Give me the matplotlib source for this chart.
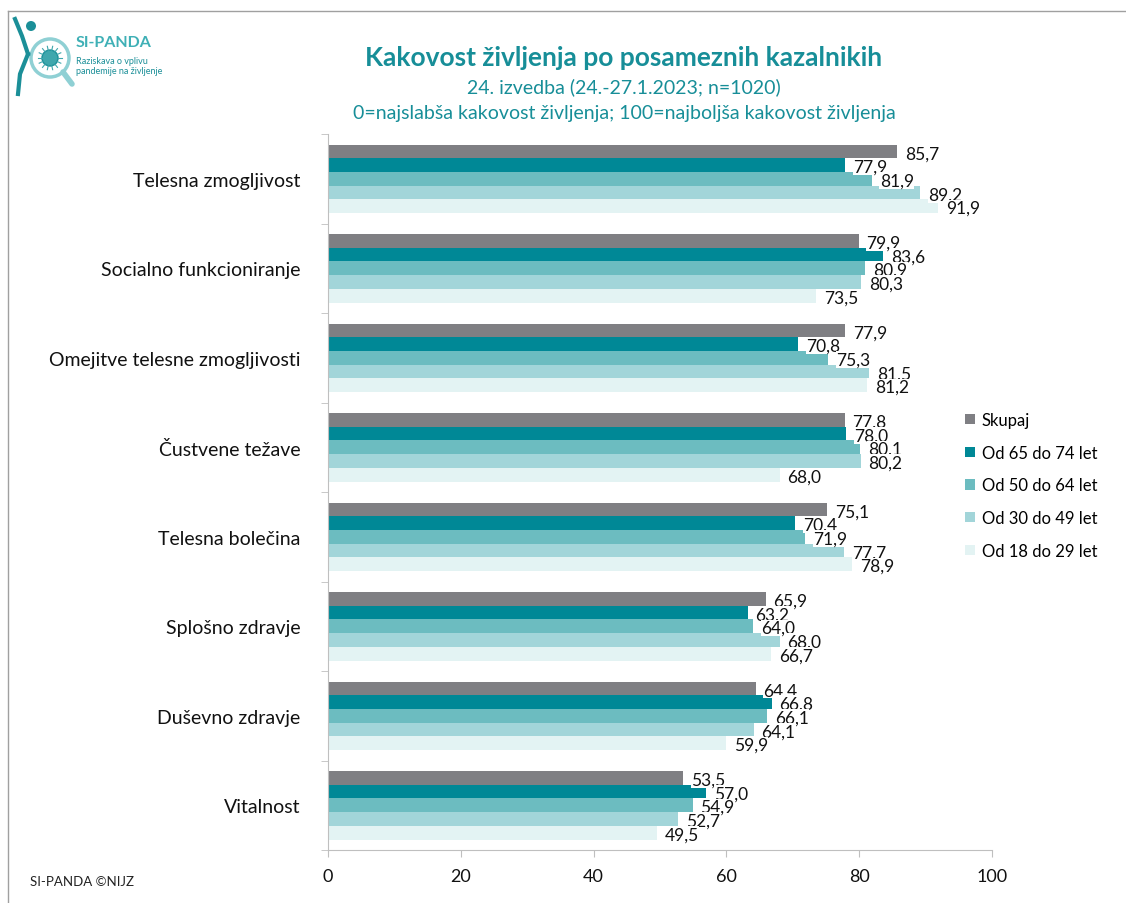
import matplotlib
matplotlib.use("Agg")
import matplotlib.pyplot as plt
import numpy as np
from matplotlib.patches import Circle, Rectangle
from matplotlib.lines import Line2D

plt.rcParams['font.family'] = ['Lato', 'DejaVu Sans']

categories = ["Telesna zmogljivost", "Socialno funkcioniranje", "Omejitve telesne zmogljivosti",
              "Čustvene težave", "Telesna bolečina", "Splošno zdravje", "Duševno zdravje", "Vitalnost"]
series_names = ["Skupaj", "Od 65 do 74 let", "Od 50 do 64 let", "Od 30 do 49 let", "Od 18 do 29 let"]
skupaj = [85.7, 79.9, 77.9, 77.8, 75.1, 65.9, 64.4, 53.5]
od65_74 = [77.9, 83.6, 70.8, 78.0, 70.4, 63.2, 66.8, 57.0]
od50_64 = [81.9, 80.9, 75.3, 80.1, 71.9, 64.0, 66.1, 54.9]
od30_49 = [89.2, 80.3, 81.5, 80.2, 77.7, 68.0, 64.1, 52.7]
od18_29 = [91.9, 73.5, 81.2, 68.0, 78.9, 66.7, 59.9, 49.5]
series = [skupaj, od65_74, od50_64, od30_49, od18_29]
colors = ["#7f7f83", "#008896", "#6cbcc0", "#a2d5d9", "#e3f3f3"]
xticks = [0, 20, 40, 60, 80, 100]

W, H = 1126, 904
fig = plt.figure(figsize=(W / 100, H / 100), dpi=100)

# axes: x 328..992, y 135..851 (pixels)
ax = fig.add_axes([328 / W, 1 - 851 / H, (992 - 328) / W, (851 - 135) / H])

n_cat = len(categories)
bar_h = 13.7 / 89.5
for i, cat in enumerate(categories):
    for j, (vals, col) in enumerate(zip(series, colors)):
        y = i + (j - 2) * bar_h
        ax.barh(y, vals[i], height=bar_h, color=col, edgecolor='none', zorder=2)
for i, cat in enumerate(categories):
    for j, vals in enumerate(series):
        y = i + (j - 2) * bar_h
        ax.text(vals[i] + 1.2, y + 0.02, f"{vals[i]:.1f}".replace('.', ','), va='center', ha='left',
                fontsize=12.5, color='#111111', zorder=3,
                bbox=dict(boxstyle='square,pad=0.02', facecolor='white', edgecolor='none'))

ax.set_ylim(n_cat - 0.5, -0.5)
ax.set_xlim(0, 100)
ax.set_yticks(range(n_cat))
ax.set_yticklabels(categories, fontsize=14, color='#111111')
ax.set_xticks(xticks)
ax.set_xticklabels([str(t) for t in xticks], fontsize=13, color='#111111')
ax.set_yticks(np.arange(-0.5, n_cat, 1), minor=True)
ax.tick_params(axis='y', which='major', length=0, pad=20)
ax.tick_params(axis='y', which='minor', length=5, color='#bfbfbf', direction='out')
ax.tick_params(axis='x', length=5, color='#bfbfbf', pad=8)
for s in ['top', 'right']:
    ax.spines[s].set_visible(False)
for s in ['left', 'bottom']:
    ax.spines[s].set_color('#bfbfbf')

# legend
handles = [Rectangle((0, 0), 1, 1, facecolor=c, edgecolor='none') for c in colors]
leg = fig.legend(handles, series_names, loc='upper left', bbox_to_anchor=(950 / W, 1 - 398 / H),
                 frameon=False, fontsize=12, handlelength=0.6, handleheight=0.6,
                 handletextpad=0.4, labelspacing=1.0)

# titles
teal = "#178e98"
fig.text(624 / W, 1 - 58 / H, "Kakovost življenja po posameznih kazalnikih", ha='center', va='center',
         fontsize=19, fontweight='bold', color=teal)
fig.text(624 / W, 1 - 87 / H, "24. izvedba (24.-27.1.2023; n=1020)", ha='center', va='center',
         fontsize=14, color=teal)
fig.text(624 / W, 1 - 114 / H, "0=najslabša kakovost življenja; 100=najboljša kakovost življenja",
         ha='center', va='center', fontsize=14, color=teal)

fig.text(30 / W, 1 - 882 / H, "SI-PANDA ©NIJZ", ha='left', va='center', fontsize=9.5, color='#222222')

# border lines
fig.add_artist(Line2D([8 / W, 8 / W], [0, 1 - 12 / H], transform=fig.transFigure, color='#a0a0a0', lw=1))
fig.add_artist(Line2D([8 / W, 1], [1 - 12 / H, 1 - 12 / H], transform=fig.transFigure, color='#a0a0a0', lw=1))

# logo (approximation)
lax = fig.add_axes([10 / W, 1 - 100 / H, 70 / W, 85 / H])
lax.set_xlim(0, 70)
lax.set_ylim(85, 0)
lax.set_aspect('equal')
lax.axis('off')
lax.add_patch(Circle((40, 44), 19, facecolor='none', edgecolor='#8fd0d4', lw=2.5))
lax.add_patch(Circle((40, 44), 8, facecolor='#3fa7ad', edgecolor='#1b8f98', lw=1))
for a in np.linspace(0, 2 * np.pi, 14, endpoint=False):
    lax.plot([40 + 8 * np.cos(a), 40 + 12 * np.cos(a)], [44 + 8 * np.sin(a), 44 + 12 * np.sin(a)],
             color='#3fa7ad', lw=0.8)
lax.plot([53, 62], [58, 70], color='#8fd0d4', lw=4, solid_capstyle='round')
lax.add_patch(Circle((21, 12), 5, facecolor='#1b8f98', edgecolor='none'))
lax.plot([5, 12, 18], [5, 22, 40], color='#1b8f98', lw=3)
lax.plot([18, 10, 8], [40, 60, 80], color='#1b8f98', lw=3)

fig.text(76 / W, 1 - 43 / H, "SI-PANDA", ha='left', va='center', fontsize=11.5, fontweight='bold', color='#3fb0b6')
fig.text(76 / W, 1 - 61 / H, "Raziskava o vplivu", ha='left', va='center', fontsize=6.5, color='#1b8f98')
fig.text(76 / W, 1 - 71 / H, "pandemije na življenje", ha='left', va='center', fontsize=6.5, color='#1b8f98')

fig.savefig("out.png", dpi=100, facecolor='white')
